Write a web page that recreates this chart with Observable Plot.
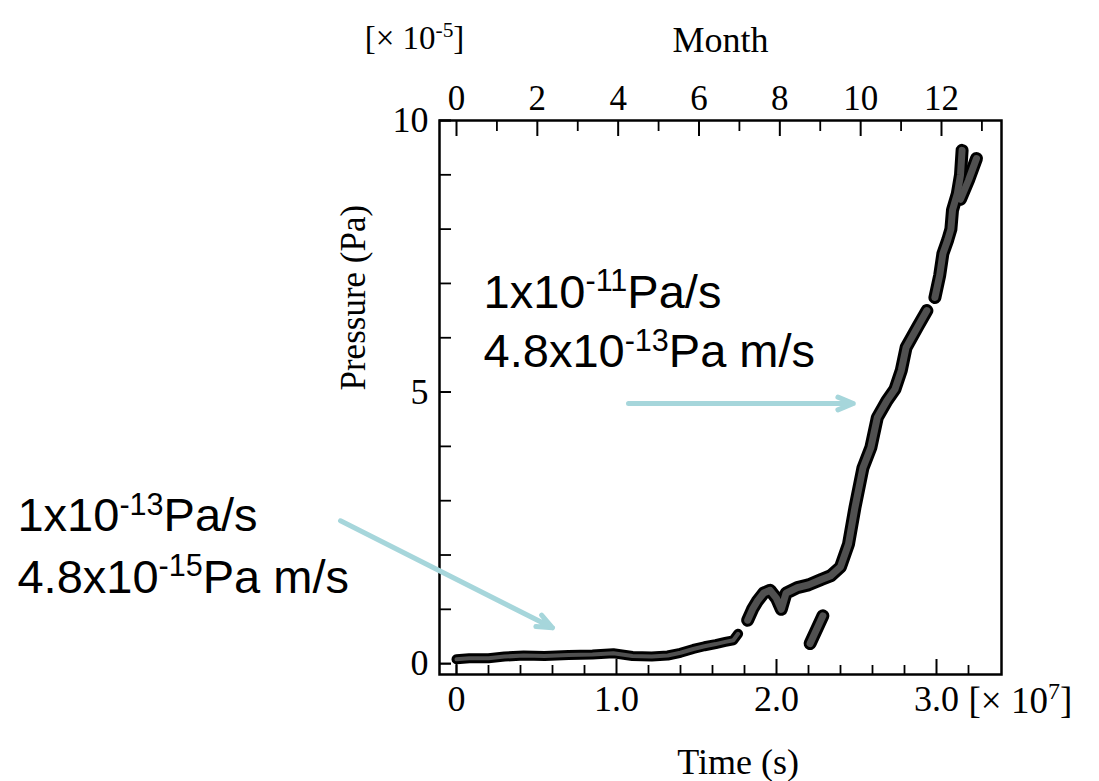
<!DOCTYPE html>
<html><head><meta charset="utf-8">
<script src="https://cdn.jsdelivr.net/npm/d3@7"></script>
<script src="https://cdn.jsdelivr.net/npm/@observablehq/plot@0.6"></script>
<style>html,body{margin:0;padding:0;background:#fff;overflow:hidden}</style>
</head><body><div id="chart"></div><script>
// ---- data (time in 1e7 s, pressure in 1e-5 Pa) ----
const segA_time = [0.0, 0.08, 0.2, 0.3, 0.42, 0.55, 0.7, 0.85, 0.98, 1.1, 1.22, 1.32, 1.4, 1.48, 1.55, 1.62, 1.68, 1.73, 1.76];
const segA_pressure = [0.08, 0.1, 0.1, 0.13, 0.15, 0.14, 0.16, 0.17, 0.19, 0.14, 0.13, 0.15, 0.2, 0.27, 0.32, 0.36, 0.4, 0.43, 0.55];
const segB_time = [1.82, 1.85, 1.88, 1.92, 1.96, 2.0, 2.03, 2.06, 2.13, 2.2, 2.28, 2.34, 2.4, 2.45, 2.49, 2.54, 2.59, 2.63, 2.69, 2.74, 2.78, 2.81, 2.88, 2.94];
const segB_pressure = [0.8, 1.0, 1.15, 1.3, 1.35, 1.2, 1.0, 1.3, 1.4, 1.45, 1.55, 1.62, 1.78, 2.2, 2.87, 3.6, 3.98, 4.53, 4.84, 5.05, 5.4, 5.82, 6.19, 6.5];
const segC_time = [2.21, 2.29];
const segC_pressure = [0.37, 0.88];
const segD_time = [2.99, 3.02, 3.04, 3.07, 3.09, 3.1, 3.13, 3.15, 3.16];
const segD_pressure = [6.74, 7.15, 7.55, 7.8, 8.0, 8.35, 8.65, 9.0, 9.45];
const segE_time = [3.15, 3.2, 3.25];
const segE_pressure = [8.55, 8.9, 9.3];

// axis ticks
const timeMinorTicks = [0, 0.2, 0.4, 0.6, 0.8, 1.2, 1.4, 1.6, 1.8, 2.2, 2.4, 2.6, 2.8, 3.2];
const timeMajorTicks = [0, 1, 2, 3];
const timeTickLabels = ["0", "1.0", "2.0", "3.0"];
const pressureTicks = [0, 1, 2, 3, 4, 5, 6, 7, 8, 9, 10];
const pressureLabelTicks = [0, 5, 10];
const monthMinor = [1, 3, 5, 7, 9, 11, 13];
const monthMajor = [0, 2, 4, 6, 8, 10, 12];
const monthInTime = 0.2526; // one month in units of 1e7 s, as drawn on the top axis

// annotations
const annotLines = ["1x10^{-11}Pa/s", "4.8x10^{-13}Pa m/s", "1x10^{-13}Pa/s", "4.8x10^{-15}Pa m/s"];
const annotX = [0.169, 0.169, -2.744, -2.744];
const annotY = [6.83, 5.73, 2.71, 1.58];
const arrowX1 = [1.075, -0.725];
const arrowY1 = [4.79, 2.63];
const arrowX2 = [2.48, 0.6];
const arrowY2 = [4.79, 0.66];

const rows = (t, p, id) => t.map((d, i) => ({time: d, pressure: p[i], seg: id}));
const curveLow = rows(segA_time, segA_pressure, "A");
const curveHigh = [
  ...rows(segB_time, segB_pressure, "B"),
  ...rows(segC_time, segC_pressure, "C"),
  ...rows(segD_time, segD_pressure, "D"),
  ...rows(segE_time, segE_pressure, "E")
];
const annots = annotLines.map((s, i) => ({s, x: annotX[i], y: annotY[i]}));
const arrows = arrowX1.map((d, i) => ({x1: d, y1: arrowY1[i], x2: arrowX2[i], y2: arrowY2[i]}));

const serif = "Liberation Serif, Times New Roman, serif";
const sans = "Liberation Sans, Arial, sans-serif";
const lineOpts = {x: "time", y: "pressure", z: "seg", strokeLinejoin: "round", strokeLinecap: "round"};

const chart = Plot.plot({
  width: 1099, height: 781,
  marginTop: 120, marginBottom: 107, marginLeft: 439, marginRight: 98,
  x: {domain: [-0.10625, 3.40625], label: null},
  y: {domain: [-0.2, 10], label: null},
  style: {background: "white", fontFamily: serif, color: "black", overflow: "visible"},
  marks: [
    // bottom axis
    Plot.axisX(timeMinorTicks, {anchor: "bottom", tickSize: -9, strokeWidth: 1.8, fill: "none", label: null}),
    Plot.axisX(timeMajorTicks, {anchor: "bottom", tickSize: -15, tickPadding: 26, strokeWidth: 2, fontSize: 36, label: null, tickFormat: (d, i) => timeTickLabels[i]}),
    // top month axis
    Plot.axisX(monthMinor.map(m => m * monthInTime), {anchor: "top", tickSize: -10, strokeWidth: 1.8, fill: "none", label: null}),
    Plot.axisX(monthMajor.map(m => m * monthInTime), {anchor: "top", tickSize: -15, tickPadding: 26, strokeWidth: 2, fontSize: 35, label: null, tickFormat: d => String(Math.round(d / monthInTime))}),
    // left axis
    Plot.axisY(pressureTicks, {anchor: "left", tickSize: -12, strokeWidth: 1.8, fill: "none", label: null}),
    Plot.axisY(pressureLabelTicks, {anchor: "left", tickSize: -12, tickPadding: 23, strokeWidth: 1.8, fontSize: 36, label: null, tickFormat: d => String(d)}),
    Plot.frame({stroke: "black", strokeWidth: 2.5}),
    // data band
    Plot.line(curveLow, {...lineOpts, stroke: "black", strokeWidth: 10}),
    Plot.line(curveLow, {...lineOpts, stroke: "#505050", strokeWidth: 4}),
    Plot.line(curveHigh, {...lineOpts, stroke: "black", strokeWidth: 13}),
    Plot.line(curveHigh, {...lineOpts, stroke: "#505050", strokeWidth: 7}),
    // axis titles
    Plot.text(["Month"], {frameAnchor: "top", dy: -80, lineAnchor: "middle", fontSize: 36, text: d => d}),
    Plot.text(["[× 10^{-5}]"], {frameAnchor: "top-left", dx: -25, dy: -82, lineAnchor: "middle", fontSize: 33, textAnchor: "middle", text: d => d}),
    Plot.text(["Time (s)"], {x: () => 1.76, frameAnchor: "bottom", dy: 88, lineAnchor: "middle", fontSize: 36, text: d => d}),
    Plot.text(["[× 10^{7}]"], {x: () => 3, frameAnchor: "bottom", dx: 32, dy: 12, lineAnchor: "top", fontSize: 37, textAnchor: "start", text: d => d}),
    Plot.text(["Pressure (Pa)"], {frameAnchor: "left", dx: -86, dy: -7, lineAnchor: "middle", rotate: -90, fontSize: 35, text: d => d}),
    // annotations
    Plot.arrow(arrows, {x1: "x1", y1: "y1", x2: "x2", y2: "y2", stroke: "#a6d6db", strokeWidth: 5, headLength: 5, headAngle: 45}),
    Plot.text(annots, {x: "x", y: "y", text: "s", textAnchor: "start", lineAnchor: "middle", fontFamily: sans, fontSize: 47, fill: "black"})
  ]
});
document.getElementById("chart").appendChild(chart);

// superscripts: "base^{sup}rest"
d3.select(chart).selectAll("text").each(function() {
  const s = this.textContent;
  const m = s.match(/^(.*)\^\{(.*?)\}(.*)$/);
  if (!m) return;
  const fs = parseFloat(getComputedStyle(this).fontSize);
  const t = d3.select(this);
  t.text(null);
  t.append("tspan").text(m[1]);
  t.append("tspan").attr("font-size", (fs * 0.65) + "px").attr("dy", -0.36 * fs).text(m[2]);
  if (m[3]) t.append("tspan").attr("dy", 0.36 * fs).text(m[3]);
});
</script></body></html>
